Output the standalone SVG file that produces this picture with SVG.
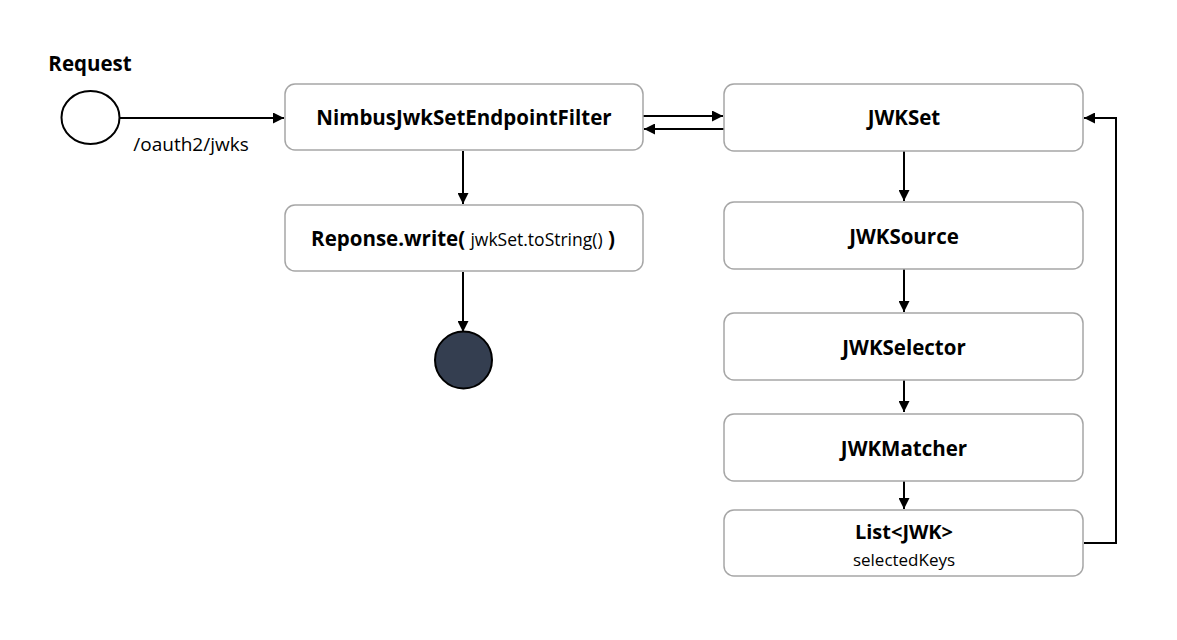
<svg xmlns="http://www.w3.org/2000/svg" width="1177" height="640" viewBox="0 0 1177 640">
<style>
.box{fill:#fff;stroke:#a6a6a6;stroke-width:1.5}
.t{font-family:"Open Sans","Noto Sans","Liberation Sans",sans-serif;font-size:20.5px;font-weight:bold;fill:#000;text-anchor:middle}
.n{font-family:"Open Sans","Noto Sans","Liberation Sans",sans-serif;font-size:17.5px;fill:#000}
.c{fill:none;stroke:#000;stroke-width:2}
</style>
<defs>
<marker id="ah" viewBox="0 0 10 10" refX="10" refY="5" markerWidth="11" markerHeight="11" markerUnits="userSpaceOnUse" orient="auto">
<path d="M0,0 L10,5 L0,10 z" fill="#000"/>
</marker>
</defs>
<rect width="1177" height="640" fill="#fff"/>
<g id="connectors">
<line class="c" x1="120" y1="118" x2="284" y2="118" marker-end="url(#ah)"/>
<line class="c" x1="643" y1="116" x2="723" y2="116" marker-end="url(#ah)"/>
<line class="c" x1="724" y1="129" x2="644" y2="129" marker-end="url(#ah)"/>
<line class="c" x1="463" y1="151" x2="463" y2="204" marker-end="url(#ah)"/>
<line class="c" x1="463" y1="272" x2="463" y2="332" marker-end="url(#ah)"/>
<line class="c" x1="904" y1="151" x2="904" y2="201" marker-end="url(#ah)"/>
<line class="c" x1="904" y1="269" x2="904" y2="312" marker-end="url(#ah)"/>
<line class="c" x1="904" y1="380" x2="904" y2="412" marker-end="url(#ah)"/>
<line class="c" x1="904" y1="481" x2="904" y2="509" marker-end="url(#ah)"/>
<polyline class="c" points="1084,543 1116,543 1116,118 1084,118" marker-end="url(#ah)"/>
<text class="n" x="191" y="151" text-anchor="middle" style="font-size:19px">/oauth2/jwks</text>
</g>
<g id="request">
<text class="t" x="90" y="71">Request</text>
<ellipse cx="90.5" cy="117.5" rx="29" ry="26.5" fill="#fff" stroke="#000" stroke-width="2"/>
</g>
<g id="filter">
<rect class="box" x="285" y="84" width="358" height="66" rx="10"/>
<text class="t" x="464" y="125">NimbusJwkSetEndpointFilter</text>
</g>
<g id="response">
<rect class="box" x="285" y="205" width="358" height="66" rx="10"/>
<text class="t" x="463" y="246">Reponse.write( <tspan style="font-weight:normal;font-size:17.5px">jwkSet.toString()</tspan> )</text>
</g>
<g id="end">
<circle cx="463.5" cy="360" r="28.5" fill="#343e50" stroke="#000" stroke-width="2"/>
</g>
<g id="jwkset">
<rect class="box" x="724" y="84" width="359" height="67" rx="10"/>
<text class="t" x="904" y="125">JWKSet</text>
</g>
<g id="jwksource">
<rect class="box" x="724" y="202" width="359" height="67" rx="10"/>
<text class="t" x="904" y="244">JWKSource</text>
</g>
<g id="jwkselector">
<rect class="box" x="724" y="313" width="359" height="67" rx="10"/>
<text class="t" x="904" y="355">JWKSelector</text>
</g>
<g id="jwkmatcher">
<rect class="box" x="724" y="414" width="359" height="67" rx="10"/>
<text class="t" x="904" y="456">JWKMatcher</text>
</g>
<g id="listjwk">
<rect class="box" x="724" y="510" width="359" height="66" rx="10"/>
<text class="t" x="904" y="539" style="font-size:20px">List&lt;JWK&gt;</text>
<text class="n" x="904" y="566" text-anchor="middle" style="font-size:17px">selectedKeys</text>
</g>
</svg>
